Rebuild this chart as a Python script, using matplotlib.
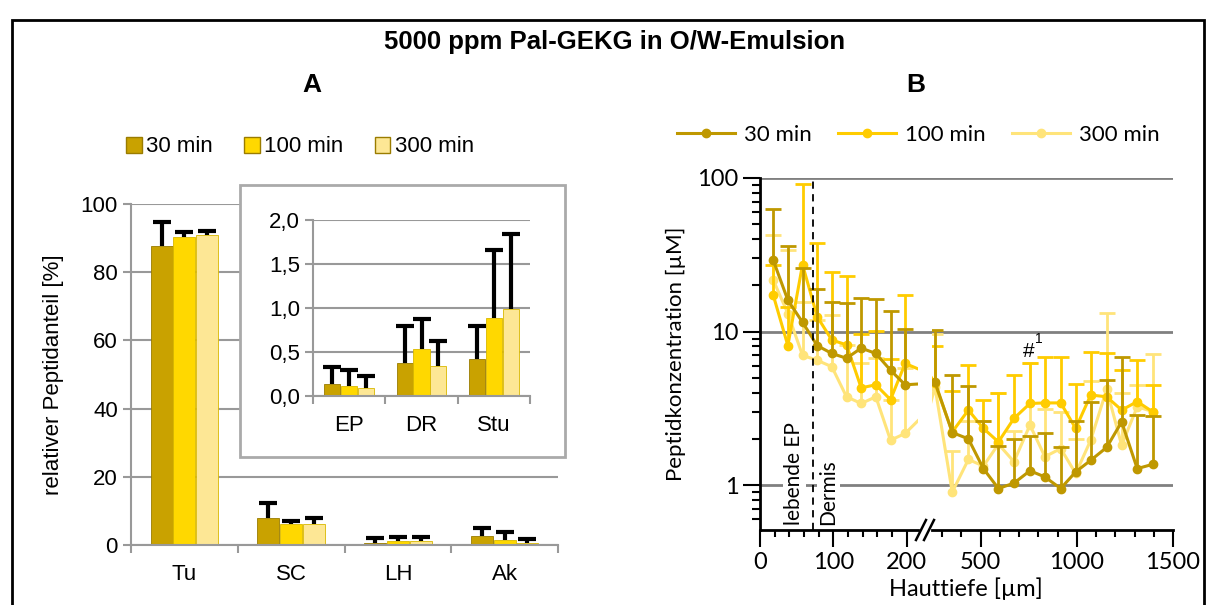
import numpy as np
import matplotlib.pyplot as plt
from matplotlib.patches import Patch, Rectangle
from matplotlib.lines import Line2D

# ---- Daten Teil A (relativer Peptidanteil, nur obere Fehlerbalken) ----
series = ["30 min", "100 min", "300 min"]
main_cats = ["Tu", "SC", "LH", "Ak"]
main_vals = [[87.8, 7.9, 0.7, 2.5],
             [90.3, 6.2, 1.3, 1.4],
             [90.8, 6.2, 1.2, 0.6]]
main_err = [[6.9, 4.5, 1.3, 2.5],
            [1.5, 0.9, 1.1, 2.5],
            [1.4, 1.7, 1.2, 1.1]]
inset_cats = ["EP", "DR", "Stu"]
inset_vals = [[0.14, 0.37, 0.42],
              [0.11, 0.53, 0.89],
              [0.09, 0.34, 0.99]]
inset_err = [[0.19, 0.43, 0.37],
             [0.18, 0.34, 0.77],
             [0.14, 0.28, 0.85]]
main_yticks = [0, 20, 40, 60, 80, 100]
inset_yticks = [0.0, 0.5, 1.0, 1.5, 2.0]
inset_ylabels = ["0,0", "0,5", "1,0", "1,5", "2,0"]

# ---- Daten Teil B (Peptidkonzentration vs. Hauttiefe) ----
depth = [18, 38, 58, 78, 98, 118, 138, 158, 178, 198,
         262, 352, 436, 514, 592, 673, 756, 834, 916, 994, 1072, 1155, 1233, 1314, 1398]
conc_30 = [29.2, 16.0, 11.5, 8.1, 7.2, 6.7, 7.8, 7.2, 5.6, 4.5,
           4.7, 2.2, 2.0, 1.28, 0.95, 1.03, 1.24, 1.13, 0.95, 1.22, 1.45, 1.76, 2.58, 1.28, 1.37]
top_30 = [63, 36, 26, 19, 15.6, 15.3, 16.6, 16.4, 13.6, 10.4,
          10.3, 5.2, 4.4, 2.6, 1.8, 2.0, 2.1, 2.2, 1.76, 2.6, 3.5, 4.8, 6.8, 2.85, 2.8]
conc_100 = [17.3, 8.1, 27.3, 12.5, 8.8, 8.2, 4.3, 4.5, 3.6, 6.2,
            4.6, 2.22, 3.08, 2.34, 1.91, 2.72, 3.4, 3.43, 3.43, 2.34, 3.86, 3.76, 3.08, 3.5, 2.98]
top_100 = [27, 14.5, 92, 37.5, 24.5, 23, 9.6, 10.1, 6.6, 17.3,
           8.0, 4.1, 6.1, 3.6, 3.96, 5.2, 6.2, 6.8, 6.8, 4.54, 7.4, 7.3, 5.6, 6.5, 4.5]
conc_300 = [21.7, 13.1, 7.0, 6.5, 5.9, 3.76, 3.4, 3.76, 1.96, 2.17,
            4.36, 0.9, 1.47, 1.33, 1.85, 1.42, 2.46, 1.53, 1.73, 1.19, 1.96, 4.2, 1.82, 3.24, 3.0]
top_300 = [42.5, 34, 15.6, 11.9, 12.8, 8.2, 6.2, 6.7, 3.6, 5.75,
           9.7, 1.67, 2.6, 2.6, 3.96, 2.26, 6.25, 3.15, 3.0, 2.0, 4.78, 13.3, 3.96, 4.5, 7.1]

bar_colors = ["#C9A200", "#FFD800", "#FDE795"]
line_colors = ["#BF9800", "#FFCC00", "#FFE47A"]
W, H = 1216, 605
FS_A = 16
FS_B = 16


def fr(x0, y0, x1, y1):
    """Pixelrechteck -> Figure-Koordinaten"""
    return [x0 / W, 1 - y1 / H, (x1 - x0) / W, (y1 - y0) / H]


def upper_err(ax, x, y, top, color, lw, cap, zorder):
    """nur nach oben gerichtete Fehlerbalken mit Kappe"""
    ax.vlines(x, y, top, color=color, linewidth=lw, zorder=zorder)
    ax.plot(x, top, linestyle="none", marker="_", ms=cap, mew=lw, color=color, zorder=zorder)


def bar_panel(ax, cats, vals, errs, width, fs):
    n = len(cats)
    x = np.arange(n)
    for i in range(3):
        xi = x + (i - 1) * width
        ax.bar(xi, vals[i], width * 0.96, color=bar_colors[i],
               edgecolor="#9a7c00" if i == 0 else "#d9b800", linewidth=0.6, zorder=2)
        upper_err(ax, xi, vals[i], np.array(vals[i]) + np.array(errs[i]),
                  "black", 3, 13, 3)
    ax.set_xlim(-0.5, n - 0.5)
    ax.set_xticks(x)
    ax.set_xticklabels(cats, fontsize=fs)
    ax.set_xticks(np.arange(n + 1) - 0.5, minor=True)
    ax.tick_params(axis="x", which="major", length=0, pad=14)
    ax.tick_params(axis="x", which="minor", length=6, color="#999999", width=1.5)
    ax.tick_params(axis="y", length=6, color="#999999", width=1.5, labelsize=fs)
    ax.grid(axis="y", color="#999999", linewidth=1.5, zorder=0)
    ax.set_axisbelow(True)
    for s in ["top", "right"]:
        ax.spines[s].set_visible(False)
    for s in ["left", "bottom"]:
        ax.spines[s].set_color("#999999")
        ax.spines[s].set_linewidth(1.5)


plt.rcParams["font.family"] = ["Liberation Sans", "DejaVu Sans"]
fig = plt.figure(figsize=(W / 100, H / 100), dpi=100)

# Rahmen
fig.add_artist(Rectangle((12 / W, -0.05), (1204 - 12) / W, 1.05 - 20 / H,
                         transform=fig.transFigure, fill=False, edgecolor="black", linewidth=2))
fig.text(615 / W, 1 - 42 / H, "5000 ppm Pal-GEKG in O/W-Emulsion",
         ha="center", va="center", fontsize=18.5, fontweight="bold")
fig.text(312 / W, 1 - 85 / H, "A", ha="center", va="center", fontsize=19, fontweight="bold")
fig.text(916 / W, 1 - 85 / H, "B", ha="center", va="center", fontsize=19, fontweight="bold")

# ---- Teil A ----
axA = fig.add_axes(fr(131, 204, 558, 545))
bar_panel(axA, main_cats, main_vals, main_err, 0.213, FS_A)
axA.set_ylim(0, 100)
axA.set_yticks(main_yticks)
axA.set_ylabel("relativer Peptidanteil [%]", fontsize=FS_A, labelpad=12)

fig.add_artist(Rectangle((240 / W, 1 - 457 / H), (565 - 240) / W, (457 - 185) / H,
                         transform=fig.transFigure, facecolor="white",
                         edgecolor="#aaaaaa", linewidth=2, zorder=5))
axI = fig.add_axes(fr(313, 220, 530, 396), zorder=6)
axI.patch.set_alpha(0)
bar_panel(axI, inset_cats, inset_vals, inset_err, 0.233, FS_A)
axI.set_ylim(0, 2.0)
axI.set_yticks(inset_yticks)
axI.set_yticklabels(inset_ylabels)

handlesA = [Patch(facecolor=c, edgecolor="#9a7c00") for c in bar_colors]
fig.legend(handlesA, series, loc="center", bbox_to_anchor=(300 / W, 1 - 147 / H),
           ncol=3, frameon=False, fontsize=FS_A, handlelength=0.7, handleheight=0.7,
           handletextpad=0.2, columnspacing=1.4)

# ---- Teil B (gebrochene x-Achse) ----
ylo, yhi = 0.51, 100
axBg = fig.add_axes(fr(760, 178, 1173, 530))
axBg.set_yscale("log")
axBg.set_ylim(ylo, yhi)
axBg.set_xlim(0, 1)
for g in [1, 10, 100]:
    axBg.axhline(g, color="#808080", linewidth=2)
axBg.axis("off")

axL = fig.add_axes(fr(760, 178, 918, 530))
axR = fig.add_axes(fr(932, 178, 1173, 530))
data_B = [(conc_30, top_30), (conc_100, top_100), (conc_300, top_300)]
for ax in (axL, axR):
    ax.set_facecolor("none")
    ax.set_yscale("log")
    ax.set_ylim(ylo, yhi)
    for i in [2, 1, 0]:
        y, top = data_B[i]
        z = 3 + (2 - i) * 0.1
        upper_err(ax, depth, y, top, line_colors[i], 2, 12, z)
        ax.plot(depth, y, "o-", color=line_colors[i], ms=6, lw=2.2, zorder=z)
    for s in ["top", "right"]:
        ax.spines[s].set_visible(False)
    ax.spines["bottom"].set_linewidth(2)
    ax.tick_params(axis="x", which="major", length=12, width=1.5, labelsize=17,
                   direction="out")
    ax.tick_params(axis="x", which="minor", length=5, width=1.5, direction="out")
    for lab in ax.get_xticklabels():
        lab.set_family("Lato")

axL.set_xlim(0, 215.5)
axL.set_xticks([0, 100, 200])
axL.set_xticks(np.arange(0, 216, 20), minor=True)
axL.spines["left"].set_linewidth(2)
axL.set_yticks([1, 10, 100])
axL.set_yticklabels(["1", "10", "100"], family="Lato")
axL.tick_params(axis="y", which="major", length=12, width=1.5, labelsize=17)
axL.tick_params(axis="y", which="minor", length=6, width=1.5, labelleft=False)
axL.set_ylabel("Peptidkonzentration [µM]", fontsize=FS_B, labelpad=8, family="Lato")
axL.axvline(72, color="black", linestyle=(0, (4, 3)), linewidth=1.3, zorder=5)
txt_box = dict(facecolor="white", edgecolor="none", pad=1)
axL.text(47, 0.55, "lebende EP", rotation=90, ha="center", va="bottom",
         fontsize=15, bbox=txt_box, zorder=4, family="Lato")
axL.text(93, 0.55, "Dermis", rotation=90, ha="center", va="bottom",
         fontsize=15, bbox=txt_box, zorder=4, family="Lato")

axR.set_xlim(246.7, 1500)
axR.set_xticks([500, 1000, 1500])
axR.set_xticks(np.arange(300, 1501, 100), minor=True)
axR.spines["left"].set_visible(False)
axR.tick_params(axis="y", which="both", left=False, labelleft=False)
axR.text(752, 7.4, "#", ha="center", va="center", fontsize=15)
axR.text(800, 9.0, "1", ha="center", va="center", fontsize=10)
axR.set_xlabel("Hauttiefe [µm]", fontsize=17, family="Lato")
axR.xaxis.set_label_coords((966 - 932) / (1173 - 932), -0.135)

# Achsenbruch //
for dx in (-4, 4):
    x0 = (925 + dx - 5) / W
    x1 = (925 + dx + 5) / W
    fig.add_artist(Line2D([x0, x1], [1 - 540 / H, 1 - 520 / H], color="black", linewidth=1.8))

handlesB = [Line2D([], [], color=c, marker="o", ms=6, lw=2.2) for c in line_colors]
fig.legend(handlesB, series, loc="center", bbox_to_anchor=(918 / W, 1 - 135 / H),
           ncol=3, frameon=False, handlelength=2.6,
           handletextpad=0.4, columnspacing=1.2, prop={"family": "Lato", "size": 16})

plt.savefig("out.png", dpi=100)
